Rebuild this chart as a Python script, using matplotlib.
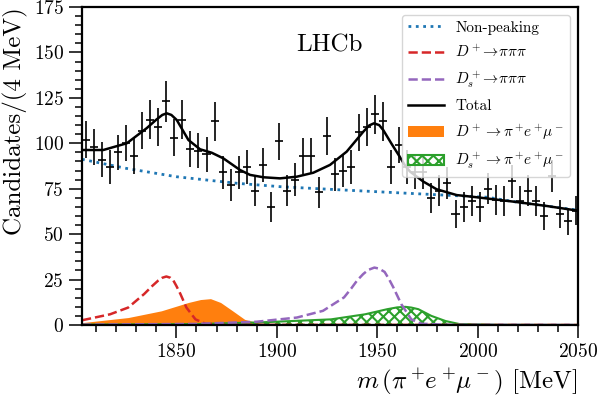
import numpy as np
import matplotlib
matplotlib.use('Agg')
import matplotlib.pyplot as plt
from matplotlib.lines import Line2D
from matplotlib.patches import Patch

plt.rcParams['font.family'] = 'serif'
plt.rcParams['font.serif'] = ['cmr10']
plt.rcParams['mathtext.fontset'] = 'cm'
plt.rcParams['axes.formatter.use_mathtext'] = True
plt.rcParams['hatch.linewidth'] = 1.5

# DATA
#------------------------
# bin centres, 4 MeV bins
bin_centres = np.arange(1805, 2050, 4)
counts = [102, 98, 91, 87, 95, 100, 93, 107, 113, 109,
          123, 103, 113, 97, 96, 94, 112, 84, 77, 84,
          87, 74, 88, 65, 101, 74, 80, 93, 93, 73,
          104, 83, 85, 87, 106, 109, 116, 112, 87, 99,
          87, 84, 84, 70, 74, 78, 61, 65, 68, 65,
          75, 69, 68, 79, 68, 74, 68, 60, 82, 61,
          57, 63]

# fit components
bkg_x = [1803, 1825, 1850, 1880, 1902, 1926, 1965, 2005, 2018, 2034, 2050]
bkg_y = [91.2, 86.2, 81.6, 78.0, 76.1, 74.7, 72.5, 70.3, 67.9, 65.5, 63.2]

dp3pi_x = [1803, 1817, 1826, 1834, 1838, 1841, 1843, 1845, 1847, 1848.5, 1850, 1852, 1855, 1859.5, 1864.5, 1875, 2050]
dp3pi_y = [2.6, 5.9, 9.6, 17.1, 21.5, 24.5, 26.0, 26.7, 26.0, 24.5, 21.5, 17.1, 9.6, 3.1, 0.7, 0.1, 0.0]

ds3pi_x = [1803, 1860, 1890, 1910, 1923, 1933.5, 1937, 1940, 1943, 1945.5, 1948.6, 1951, 1953.7, 1956, 1958, 1962, 1967, 1972, 1985, 2050]
ds3pi_y = [0.2, 0.6, 1.8, 4.1, 7.8, 15.2, 20.0, 24.5, 28.0, 30.3, 31.6, 31.0, 29.2, 25.0, 20.8, 11.5, 3.1, 0.7, 0.1, 0.0]

total_x = [1803, 1813.6, 1825.3, 1835.2, 1840, 1843, 1845.2, 1847.5, 1850.2, 1856, 1861.8, 1867.6, 1873.4,
           1881.7, 1886.7, 1893.3, 1901.6, 1909.9, 1918.2, 1926.5, 1934.8, 1943.1, 1946, 1948.4, 1951,
           1953, 1957, 1961, 1964, 1966.4, 1973, 1979.6, 1989.6, 1999.6, 2017.8, 2034.4, 2050]
total_y = [96.3, 96.3, 100.0, 108.3, 113.0, 115.6, 116.5, 115.6, 112.8, 101.8, 96.7, 94.8, 91.7,
           85.3, 82.6, 81.3, 80.7, 81.6, 83.8, 88.1, 95.4, 106.4, 109.8, 111.0, 110.0,
           107.3, 100.0, 93.0, 87.5, 84.4, 78.9, 74.7, 71.5, 70.3, 67.9, 65.5, 62.9]

dp_sig_x = [1803, 1826, 1842.5, 1856, 1862, 1867, 1872, 1878, 1884, 1890, 1896, 1920, 2050]
dp_sig_y = [1.3, 4.1, 7.8, 12.4, 14.0, 14.5, 12.4, 7.8, 3.1, 1.3, 0.3, 0.1, 0.0]

ds_sig_x = [1803, 1860, 1893, 1927, 1944, 1955, 1960, 1964, 1967, 1970.5, 1977, 1984, 1991, 2010, 2050]
ds_sig_y = [0.2, 0.5, 1.5, 3.1, 5.9, 8.7, 9.7, 10.0, 9.6, 8.7, 5.0, 2.2, 0.5, 0.1, 0.0]
#------------------------

fig = plt.figure(figsize=(5.98, 3.96), dpi=100)
ax = fig.add_axes([82/598, 71/396, 496/598, 318/396])

ax.fill_between(dp_sig_x, dp_sig_y, color='tab:orange', lw=0)
ax.fill_between(ds_sig_x, ds_sig_y, facecolor='none', edgecolor='tab:green', hatch='xxx', lw=1.5)

ax.plot(bkg_x, bkg_y, ls=':', color='tab:blue', lw=2)
ax.plot(dp3pi_x, dp3pi_y, ls='--', color='tab:red', lw=1.8)
ax.plot(ds3pi_x, ds3pi_y, ls='--', color='tab:purple', lw=1.8)
ax.plot(total_x, total_y, color='k', lw=1.8)

ax.errorbar(bin_centres, counts, xerr=2, yerr=np.sqrt(counts), fmt='none', ecolor='k', elinewidth=1.2)

ax.set_xlim(1803, 2050)
ax.set_ylim(0, 175)
ax.set_xticks([1850, 1900, 1950, 2000, 2050])
ax.set_xticks(np.arange(1810, 2050, 10), minor=True)
ax.set_yticks(np.arange(0, 176, 25))
ax.set_yticks(np.arange(0, 176, 5), minor=True)
ax.tick_params(which='both', direction='out', labelsize=14, width=1.1)
ax.tick_params(which='major', length=9.5)
ax.tick_params(which='minor', length=5)
for s in ax.spines.values():
    s.set_linewidth(1.6)

ax.set_xlabel(r'$m\,(\pi^+\!e^+\!\mu^-)$ [MeV]', fontsize=18, loc='right')
ax.set_ylabel('Candidates/(4 MeV)', fontsize=18, loc='top')
ax.text(0.498, 0.88, 'LHCb', transform=ax.transAxes, fontsize=18, ha='center', va='center')

handles = [
    Line2D([], [], ls=':', color='tab:blue', lw=2),
    Line2D([], [], ls='--', color='tab:red', lw=1.8),
    Line2D([], [], ls='--', color='tab:purple', lw=1.8),
    Line2D([], [], color='k', lw=1.8),
    Patch(color='tab:orange', lw=0),
    Patch(facecolor='none', edgecolor='tab:green', hatch='xxx', lw=1.5),
]
labels = ['Non-peaking', r'$D^+\!\to\!\pi\pi\pi$', r'$D_s^+\!\to\!\pi\pi\pi$', 'Total',
          r'$D^+\to\pi^+\!e^+\!\mu^-$', r'$D_s^+\to\pi^+\!e^+\!\mu^-$']
ax.legend(handles, labels, loc='upper right', fontsize=11, handlelength=2.4,
          handletextpad=0.7, labelspacing=0.62)

fig.savefig('out.png', dpi=100)
